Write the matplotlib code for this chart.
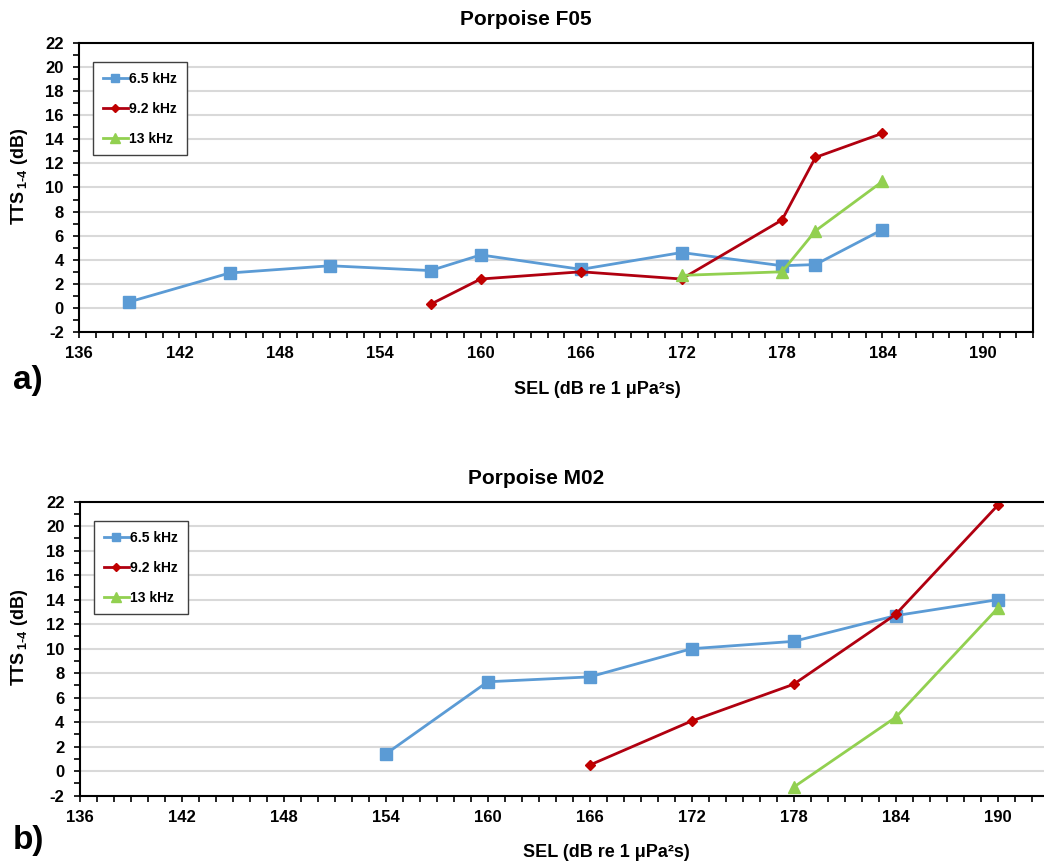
import numpy as np
import matplotlib.pyplot as plt
from matplotlib.ticker import MultipleLocator, FixedLocator

plt.rcParams['font.family'] = ['Liberation Sans', 'DejaVu Sans']
plt.rcParams['font.weight'] = 'bold'
plt.rcParams['axes.unicode_minus'] = False
plt.rcParams['mathtext.fontset'] = 'custom'
plt.rcParams['mathtext.rm'] = 'Liberation Sans:bold'
plt.rcParams['mathtext.bf'] = 'Liberation Sans:bold'

# Porpoise F05
f05_x_65 = [139, 145, 151, 157, 160, 166, 172, 178, 180, 184]
f05_y_65 = [0.5, 2.9, 3.5, 3.1, 4.4, 3.2, 4.6, 3.5, 3.6, 6.5]
f05_x_92 = [157, 160, 166, 172, 178, 180, 184]
f05_y_92 = [0.3, 2.4, 3.0, 2.4, 7.3, 12.5, 14.5]
f05_x_13 = [172, 178, 180, 184]
f05_y_13 = [2.7, 3.0, 6.4, 10.5]

# Porpoise M02
m02_x_65 = [154, 160, 166, 172, 178, 184, 190]
m02_y_65 = [1.4, 7.3, 7.7, 10.0, 10.6, 12.7, 14.0]
m02_x_92 = [166, 172, 178, 184, 190]
m02_y_92 = [0.5, 4.1, 7.1, 12.8, 21.7]
m02_x_13 = [178, 184, 190]
m02_y_13 = [-1.3, 4.4, 13.3]

labels = ['6.5 kHz', '9.2 kHz', '13 kHz']
xticks = np.arange(136, 193, 6)
blue = '#5B9BD5'
red = '#B00010'
green = '#92D050'


def draw_panel(ax, series, title, tx, xlx, xl_off, ylx, yly, tag, tagy):
    styles = [(blue, 's', 8), (red, 'D', 5.5), (green, '^', 9)]
    for (x, y), lab, (c, m, ms) in zip(series, labels, styles):
        mc = '#C00000' if c == red else c
        ax.plot(x, y, color=c, lw=2, marker=m, ms=ms, mfc=mc, mec=mc, label=lab)
    ax.set_xlim(136, 193)
    ax.set_ylim(-2, 22)
    ax.xaxis.set_major_locator(FixedLocator(xticks))
    ax.xaxis.set_minor_locator(MultipleLocator(1))
    ax.yaxis.set_major_locator(MultipleLocator(2))
    ax.yaxis.set_minor_locator(MultipleLocator(1))
    ax.tick_params(which='both', direction='out', length=4, width=1.2)
    ax.tick_params(labelsize=12)
    ax.tick_params(axis='y', pad=7)
    ax.tick_params(axis='x', pad=6)
    ax.grid(axis='y', which='major', color='#D9D9D9', lw=1.5)
    ax.set_axisbelow(True)
    for sp in ax.spines.values():
        sp.set_linewidth(1.5)
    leg = ax.legend(loc='upper left', bbox_to_anchor=(0.0147, 0.934), borderaxespad=0,
                    fancybox=False, edgecolor='#404040', fontsize=10,
                    labelspacing=1.15, handlelength=1.8, handletextpad=0.1,
                    borderpad=0.7, markerscale=0.75, framealpha=1)
    leg.get_frame().set_linewidth(1.0)
    pos = ax.get_position()
    fig.text(tx, pos.y1 + 0.016, title, ha='center', va='bottom',
             fontsize=15, fontweight='bold')
    fig.text(xlx, pos.y0 - xl_off, 'SEL (dB re 1 μPa²s)', ha='center',
             va='center', fontsize=13, fontweight='bold')
    fig.text(ylx, yly, r'TTS$_{\,\text{1-4}}$ (dB)', rotation=90, ha='center',
             va='center', fontsize=13, fontweight='bold')
    fig.text(0.012, tagy, tag, ha='left', va='center', fontsize=24, fontweight='bold')


fig = plt.figure(figsize=(10.44, 8.65), dpi=100)
ax1 = fig.add_axes([0.0757, 0.6162, 0.9138, 0.3341])
ax2 = fig.add_axes([0.0763, 0.0801, 0.9282, 0.3399])

draw_panel(ax1, [(f05_x_65, f05_y_65), (f05_x_92, f05_y_92), (f05_x_13, f05_y_13)],
           'Porpoise F05', 0.504, 0.572, 0.067, 0.019, 1 - 176 / 865, 'a)', 1 - 380 / 865)
draw_panel(ax2, [(m02_x_65, m02_y_65), (m02_x_92, m02_y_92), (m02_x_13, m02_y_13)],
           'Porpoise M02', 0.514, 0.581, 0.066, 0.019, 1 - 637 / 865, 'b)', 1 - 840 / 865)

fig.savefig('out.png', dpi=100)
